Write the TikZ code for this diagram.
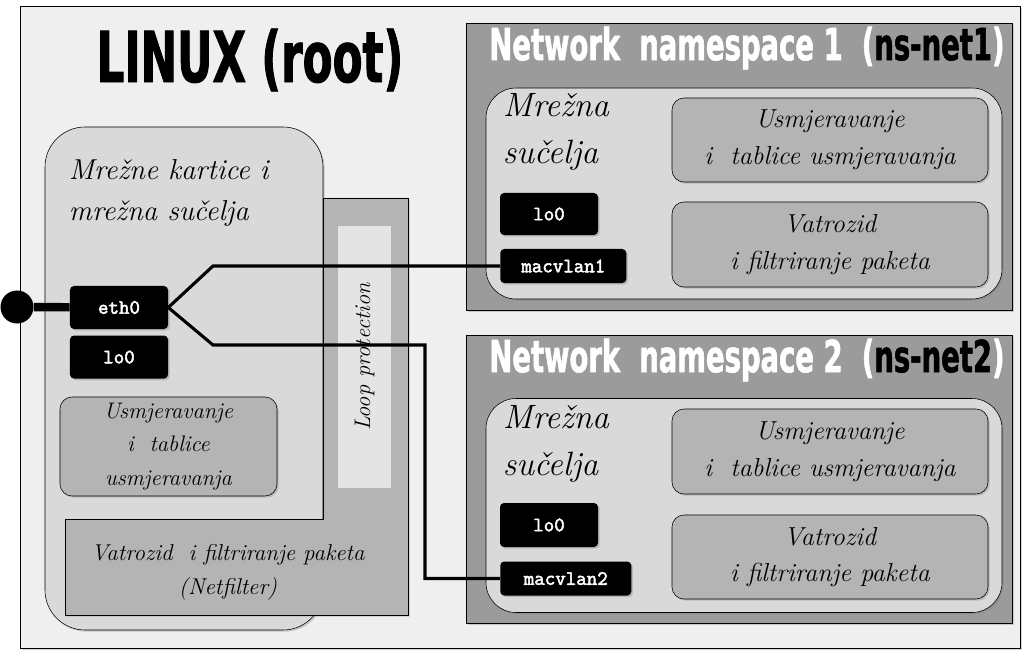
\documentclass[tikz,border=0pt]{standalone}
\usepackage{fontspec}
\newfontfamily\headfont{DejaVu Sans}[FakeStretch=0.62, FakeBold=1.2]
\newfontfamily\ifacefont{Latin Modern Mono}[FakeBold=2.5]
\usepackage{tikz}
\usetikzlibrary{positioning}
\usetikzlibrary{shadows}

\definecolor{bggray}{HTML}{EFEFEF}
\definecolor{cardgray}{HTML}{D9D9D9}
\definecolor{midgray}{HTML}{B4B4B4}
\definecolor{stripgray}{HTML}{E4E4E4}
\definecolor{nsgray}{HTML}{9B9B9B}

\begin{document}
\begin{tikzpicture}[x=0.25mm, y=-0.25mm,
  shade/.style={drop shadow={opacity=0.35, shadow xshift=1.2pt, shadow yshift=-1.2pt}},
  frame/.style={rectangle, inner sep=0mm, draw=black, fill=bggray, shade},
  card/.style={rectangle, rounded corners=10mm, inner sep=0mm,
    draw=black, fill=cardgray, shade},
  nsbox/.style={rectangle, inner sep=0mm, draw=black, fill=nsgray, shade},
  nscard/.style={rectangle, rounded corners=7.5mm, inner sep=0mm,
    draw=black, fill=cardgray, shade},
  route/.style={rectangle, rounded corners=3mm, inner sep=0mm, align=center,
    draw=black, fill=midgray, shade, font=\itshape\fontsize{18.5}{26}\selectfont},
  iface/.style={rectangle, rounded corners=1mm, inner sep=0mm,
    fill=black, text=white, shade, font=\ifacefont\fontsize{14.5}{15}\selectfont},
  hand/.style={font=\itshape\fontsize{16}{24}\selectfont, align=center},
  head/.style={font=\headfont\bfseries\fontsize{31.5}{34}\selectfont, text=white},
  wire/.style={line width=2.2pt}]

\useasboundingbox (0,0) rectangle (1028,656);

% root host
\node[frame, minimum width=250mm, minimum height=160.5mm] at (520,327) (linux) {};
\node[font=\headfont\bfseries\fontsize{50}{54}\selectfont] at (250,60) (title) {LINUX (root)};

\node[card, minimum width=69.5mm, minimum height=125.75mm] at (184,378.5) (nics) {};
\draw[draw=black, fill=midgray, shade]
  (323,198) -- (408,198) -- (408,615) -- (65,615) -- (65,519) -- (323,519) -- cycle;
\node[rectangle, fill=stripgray, rotate=90, minimum width=65.5mm, minimum height=13.25mm,
  font=\itshape\fontsize{16}{18}\selectfont] at (364.5,357) (loop) {Loop protection};

\node[font=\itshape\fontsize{20.5}{28.5}\selectfont, align=left, anchor=north west]
  at (64,155) (nicstext) {Mre\v{z}ne kartice i\\mre\v{z}na su\v{c}elja};

\node[iface, minimum width=24.5mm, minimum height=10.75mm] at (119,307.5) (eth0) {eth0};
\node[iface, minimum width=24.5mm, minimum height=10.75mm] (lo0) [below=1.5mm of eth0] {lo0};
\node[route, font=\itshape\fontsize{16}{24}\selectfont, minimum width=54.25mm,
  minimum height=24.75mm] at (168.5,446.5) (rt0) {Usmjeravanje\\i\ \ tablice\\usmjeravanja};
\node[hand, font=\itshape\fontsize{16.3}{24}\selectfont] at (228,572) (netf)
  {Vatrozid\ \ i filtriranje paketa\\(Netfilter)};

\node[circle, fill=black, minimum size=8.25mm, inner sep=0mm] at (17,307) (plug) {};
\draw[line width=6pt] (plug) -- (eth0);

% namespace 1
\node[nsbox, minimum width=136.5mm, minimum height=71.75mm] at (739,166.5) (ns1) {};
\node[head] at (747,48) (ns1title) {Network\ \ namespace 1\ \ (\textcolor{black}{ns-net1})};
\node[nscard, minimum width=129mm, minimum height=52.75mm] at (744,193.5) (ns1card) {};
\node[font=\itshape\fontsize{24}{33.5}\selectfont, align=left, anchor=north west]
  at (498,88) (ns1text) {Mre\v{z}na\\su\v{c}elja};
\node[iface, minimum width=24.5mm, minimum height=10.5mm] at (549,214) (lo1) {lo0};
\node[iface, minimum width=31.5mm, minimum height=8.5mm, anchor=west] at (500,266) (mac1) {macvlan1};
\node[route, minimum width=79mm, minimum height=21mm] at (830,140) (rt1)
  {Usmjeravanje\\i\ \ tablice usmjeravanja};
\node[route, minimum width=79mm, minimum height=21.25mm] at (830,244.5) (fw1)
  {Vatrozid\\i filtriranje paketa};

% namespace 2
\node[nsbox, minimum width=136.5mm, minimum height=72mm] at (739,479) (ns2) {};
\node[head] at (747,360) (ns2title) {Network\ \ namespace 2\ \ (\textcolor{black}{ns-net2})};
\node[nscard, minimum width=129mm, minimum height=53.5mm] at (744,505.5) (ns2card) {};
\node[font=\itshape\fontsize{24}{33.5}\selectfont, align=left, anchor=north west]
  at (498,400) (ns2text) {Mre\v{z}na\\su\v{c}elja};
\node[iface, minimum width=24.5mm, minimum height=11mm] at (549,525) (lo2) {lo0};
\node[iface, minimum width=32.75mm, minimum height=8.5mm, anchor=west] at (500,578.5) (mac2) {macvlan2};
\node[route, minimum width=79mm, minimum height=21.25mm] at (830,451.5) (rt2)
  {Usmjeravanje\\i\ \ tablice usmjeravanja};
\node[route, minimum width=79mm, minimum height=21mm] at (830,557) (fw2)
  {Vatrozid\\i filtriranje paketa};

% links from eth0
\coordinate (upbend) at (213,266);
\coordinate (lowbend) at (213,345);
\coordinate (lowdrop) at (425,345);
\draw[wire] (eth0.east) -- (upbend) -- (mac1.west);
\draw[wire] (eth0.east) -- (lowbend) -- (lowdrop) |- (mac2.west);

\end{tikzpicture}
\end{document}
